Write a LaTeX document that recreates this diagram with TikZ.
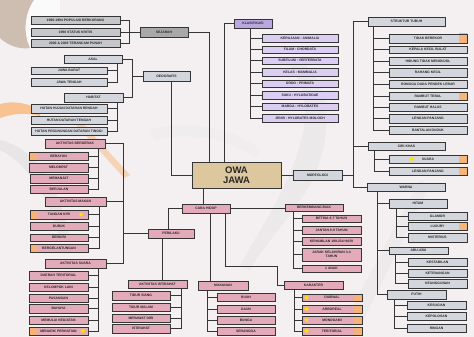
\documentclass[tikz,border=0pt]{standalone}
\usepackage{fontspec}
\setmainfont{Liberation Sans}
\usetikzlibrary{shapes.geometric}
\definecolor{bgc}{HTML}{F4EFF1}
\definecolor{lg}{HTML}{D3D6DC}
\definecolor{dg}{HTML}{A8A8A8}
\definecolor{mg}{HTML}{C6C7CA}
\definecolor{pp}{HTML}{DCCEF2}
\definecolor{ppd}{HTML}{BBA7E0}
\definecolor{pk}{HTML}{E3AABA}
\definecolor{tanc}{HTML}{DCC79F}
\definecolor{acc}{HTML}{F7B376}
\definecolor{ln}{HTML}{353535}
\newcommand\bx[7]{\node[#1, minimum width={(#4)-(#2)}, minimum height={(#5)-(#3)}] (#6) at ({((#2)+(#4))/2},{((#3)+(#5))/2}) {#7};}
\newcommand\tk[2]{\draw[conn] (#1) -- (#1 -| #2);}
\tikzset{
 bx/.style={draw=ln, line width=0.85pt, inner sep=0pt, align=center, font=\fontsize{3.4}{3.9}\selectfont\bfseries, text=black!85},
 gr/.style={bx, fill=lg},
 sg/.style={bx, fill=mg},
 sd/.style={bx, fill=dg},
 pu/.style={bx, fill=pp},
 pud/.style={bx, fill=ppd},
 pi/.style={bx, fill=pk},
 ow/.style={bx, fill=tanc, line width=1pt, font=\fontsize{9.5}{10.5}\selectfont\bfseries},
 conn/.style={draw=ln, line width=0.9pt},
 accR/.style={path picture={\shade[left color=#1, right color=acc] ([xshift=-8pt]path picture bounding box.north east) rectangle (path picture bounding box.south east);}},
 accL/.style={path picture={\shade[left color=acc, right color=#1] (path picture bounding box.north west) rectangle ([xshift=8pt]path picture bounding box.south west);}},
 ystar/.style={star, star points=5, star point ratio=2.3, fill=yellow!85!orange, draw=none, inner sep=0pt, minimum size=5.5pt},
}
\begin{document}
\begin{tikzpicture}[x=1pt,y=-1pt]
\useasboundingbox (0,0) rectangle (474,337);
\fill[bgc] (0,0) rectangle (474,337);
% background decoration
\fill[gray!55!brown!60, opacity=0.8] (0,0) -- (34,0) .. controls (26,12) and (22,30) .. (30,48) .. controls (18,50) and (6,44) .. (0,38) -- cycle;
\fill[white, opacity=0.7] (34,0) .. controls (26,12) and (22,30) .. (30,48) -- (60,48) -- (60,0) -- cycle;
\fill[orange!50!bgc, opacity=0.8] (0,104) .. controls (15,100) and (30,104) .. (40,110) -- (40,116) .. controls (25,112) and (12,114) .. (0,118) -- cycle;
\fill[orange!35!bgc, opacity=0.7] (70,118) -- (78,118) -- (130,175) -- (124,178) -- cycle;
\fill[gray!25, opacity=0.6] (0,140) .. controls (40,150) and (60,190) .. (70,240) -- (60,240) .. controls (50,200) and (30,165) .. (0,150) -- cycle;
\fill[gray!20, opacity=0.6] (300,60) .. controls (340,90) and (330,160) .. (300,200) .. controls (280,230) and (260,250) .. (250,270) -- (240,265) .. controls (260,230) and (300,170) .. (305,120) .. controls (307,90) and (295,70) .. (285,60) -- cycle;
\fill[gray!15, opacity=0.6] (150,130) .. controls (180,120) and (230,125) .. (260,150) -- (255,158) .. controls (225,135) and (185,132) .. (155,140) -- cycle;
\fill[gray!18, opacity=0.6] (340,330) -- (420,180) -- (430,185) -- (355,337) -- cycle;

% ---------- SEJARAH
\bx{sg}{31}{16}{120}{24}{s1}{1990-1994 POPULASI BERKURANG}
\bx{sg}{31}{28}{120}{36}{s2}{1996 STATUS KRITIS}
\bx{sg}{31}{39}{120}{47}{s3}{2000 \& 2008 TERANCAM PUNAH}
\bx{sd}{140}{27}{188}{37}{sej}{SEJARAH}
\coordinate (bS) at (129,0);
\draw[conn] (s1.east) -| (bS |- s3.east) -- (s3.east);
\tk{s2.east}{bS}
\draw[conn] (bS |- sej.west) -- (sej.west);

% ---------- GEOGRAFIS
\bx{gr}{143}{71}{190}{81}{geo}{GEOGRAFIS}
\bx{gr}{64}{55}{122}{63}{asal}{ASAL}
\bx{gr}{31}{67}{107}{74}{jb}{JAWA BARAT}
\bx{gr}{31}{78}{107}{86}{jt}{JAWA TENGAH}
\bx{gr}{64}{93}{123}{102}{hab}{HABITAT}
\bx{gr}{31}{104}{107}{113}{h1}{HUTAN HUJAN DATARAN RENDAH}
\bx{gr}{31}{116}{107}{124}{h2}{HUTAN DATARAN TENGAH}
\bx{gr}{31}{127}{107}{135}{h3}{HUTAN PEGUNUNGAN DATARAN TINGGI}
\coordinate (bA) at (117,0);
\draw[conn] (bA |- asal.south) |- (jt.east);
\tk{jb.east}{bA}
\draw[conn] (bA |- hab.south) |- (h3.east);
\tk{h1.east}{bA}
\tk{h2.east}{bA}
\coordinate (bG) at (132,0);
\draw[conn] (asal.east) -| (bG |- hab.east) -- (hab.east);
\draw[conn] (bG |- geo.west) -- (geo.west);

% ---------- KLASIFIKASI
\bx{pud}{234}{19}{272}{28}{kla}{KLASIFIKASI}
\bx{pu}{262}{34}{338}{42}{k1}{KERAJAAN : ANIMALIA}
\bx{pu}{262}{46}{338}{53}{k2}{FILUM : CHORDATA}
\bx{pu}{262}{57}{338}{64}{k3}{SUBFILUM : VERTEBRATA}
\bx{pu}{262}{68}{338}{76}{k4}{KELAS : MAMMALIA}
\bx{pu}{262}{80}{338}{87}{k5}{ORDO : PRIMATA}
\bx{pu}{262}{91}{338}{99}{k6}{SUKU : HYLOBATIDAE}
\bx{pu}{262}{103}{338}{110}{k7}{MARGA : HYLOBATES}
\bx{pu}{262}{114}{338}{122}{k8}{JENIS : HYLOBATES MOLOCH}
\coordinate (bK) at (250,0);
\draw[conn] (bK |- kla.south) |- (k8.west);
\foreach \k in {k1,k2,k3,k4,k5,k6,k7}{\tk{\k.west}{bK}}

% ---------- OWA JAWA
\bx{ow}{192}{162}{281}{188}{owa}{OWA\\JAWA}
\coordinate (oS) at (209,0);
\coordinate (oK) at (224,0);
\draw[conn] (sej.east) -| (oS |- owa.north);
\draw[conn] (kla.west) -| (oK |- owa.north);
\coordinate (oG) at (171,0);
\draw[conn] (oG |- geo.south) |- (owa.west);

% ---------- MORFOLOGI
\bx{gr}{293}{170}{342}{180}{mor}{MORFOLOGI}
\draw[conn] (owa.east) -- (mor.west);
\bx{gr}{368}{17}{445}{26}{stru}{STRUKTUR TUBUH}
\bx{gr}{368}{142}{445}{150}{ciri}{CIRI KHAS}
\bx{gr}{367}{183}{445}{191}{war}{WARNA}
\coordinate (bM) at (353,0);
\draw[conn] (stru.west) -| (bM |- war.west) -- (war.west);
\tk{mor.east}{bM}
\tk{ciri.west}{bM}

\bx{gr,accR=lg}{389}{34}{467}{43}{t1}{TIDAK BEREKOR}
\bx{gr}{389}{46}{467}{53}{t2}{KEPALA KECIL BULAT}
\bx{gr}{389}{57}{467}{65}{t3}{HIDUNG TIDAK MENONJOL}
\bx{gr}{389}{68}{467}{77}{t4}{RAHANG KECIL}
\bx{gr}{389}{80}{467}{88}{t5}{RONGGA DADA PENDEK LEBAR}
\bx{gr,accR=lg}{389}{92}{467}{100}{t6}{RAMBUT TEBAL}
\bx{gr}{389}{103}{467}{111}{t7}{RAMBUT HALUS}
\bx{gr}{389}{114}{467}{123}{t8}{LENGAN PANJANG}
\bx{gr}{389}{126}{467}{134}{t9}{BANTALAN DUDUK}
\coordinate (bT) at (373,0);
\draw[conn] (bT |- stru.south) |- (t9.west);
\foreach \k in {t1,t2,t3,t4,t5,t6,t7,t8}{\tk{\k.west}{bT}}

\bx{gr,accR=lg}{389}{155}{467}{163}{c1}{SUARA}
\bx{gr,accR=lg}{389}{167}{467}{175}{c2}{LENGAN PANJANG}
\node[ystar] (sc1) at (412,159) {};
\coordinate (bC) at (374,0);
\draw[conn] (bC |- ciri.south) |- (c2.west);
\tk{c1.west}{bC}

\bx{gr}{389}{199}{447}{208}{hit}{HITAM}
\bx{gr}{389}{247}{448}{254}{abu}{ABU-ABU}
\bx{gr}{387}{290}{446}{299}{put}{PUTIH}
\coordinate (bW) at (377,0);
\draw[conn] (bW |- war.south) |- (put.west);
\tk{hit.west}{bW}
\tk{abu.west}{bW}

\bx{gr}{408}{212}{467}{220}{w1}{GLAMOR}
\bx{gr,accR=lg}{408}{222}{467}{230}{w2}{LUXURY}
\bx{gr}{408}{233}{467}{242}{w3}{MISTERIUS}
\coordinate (bH) at (396,0);
\draw[conn] (bH |- hit.south) |- (w3.west);
\tk{w1.west}{bH}
\tk{w2.west}{bH}

\bx{gr}{408}{258}{467}{266}{a1}{KESTABILAN}
\bx{gr}{408}{269}{467}{277}{a2}{KETENANGAN}
\bx{gr}{408}{279}{467}{288}{a3}{KEANGGUNAN}
\coordinate (bAb) at (395,0);
\draw[conn] (bAb |- abu.south) |- (a3.west);
\tk{a1.west}{bAb}
\tk{a2.west}{bAb}

\bx{gr}{407}{301}{466}{309}{p1}{KESUCIAN}
\bx{gr}{407}{312}{466}{320}{p2}{KEPOLOSAN}
\bx{gr}{407}{324}{466}{332}{p3}{RINGAN}
\coordinate (bP) at (394,0);
\draw[conn] (bP |- put.south) |- (p3.west);
\tk{p1.west}{bP}
\tk{p2.west}{bP}

% ---------- CARA HIDUP
\bx{pi}{182}{204}{230}{213}{cara}{CARA HIDUP}
\coordinate (oC) at (203,0);
\draw[conn] (oC |- owa.south) -- (oC |- cara.north);
\bx{pi}{148}{229}{194}{238}{peri}{PERILAKU}
\coordinate (cP) at (168,0);
\draw[conn] (cara.west) -| (cP |- peri.north);
\bx{pi}{285}{204}{343}{211}{bb}{BERKEMBANG BIAK}
\draw[conn] (cara.east) -- (cara.east -| bb.west);
\bx{pi}{302}{215}{361}{222}{b1}{BETINA 6-7 TAHUN}
\bx{pi}{302}{226}{361}{234}{b2}{JANTAN 8-9 TAHUN}
\bx{pi}{302}{237}{361}{245}{b3}{KEHAMILAN 199-234 HARI}
\bx{pi}{302}{248}{361}{261}{b4}{JARAK KELAHIRAN 3-4\\TAHUN}
\bx{pi}{302}{265}{361}{272}{b5}{1 ANAK}
\coordinate (bB) at (293,0);
\draw[conn] (bB |- bb.south) |- (b5.west);
\foreach \k in {b1,b2,b3,b4}{\tk{\k.west}{bB}}

\bx{pi}{198}{281}{248}{290}{mak}{MAKANAN}
\coordinate (cM) at (210,0);
\draw[conn] (cM |- cara.south) -- (cM |- mak.north);
\bx{pi}{217}{293}{275}{301}{m1}{BUAH}
\bx{pi}{217}{305}{275}{313}{m2}{DAUN}
\bx{pi}{217}{316}{275}{324}{m3}{BUNGA}
\bx{pi}{217}{327}{275}{335}{m4}{SERANGGA}
\coordinate (bMk) at (207,0);
\draw[conn] (bMk |- mak.south) |- (m4.west);
\foreach \k in {m1,m2,m3}{\tk{\k.west}{bMk}}

\bx{pi}{284}{281}{343}{289}{kar}{KARAKTER}
\coordinate (cK) at (225,0);
\coordinate (cK2) at (277,266);
\draw[conn] (cK |- cara.south) |- (cK2) |- (kar.west);
\bx{pi,accR=pk}{302}{294}{362}{301}{r1}{DIURNAL}
\bx{pi,accR=pk}{302}{305}{362}{313}{r2}{ARBOREAL}
\bx{pi,accR=pk}{302}{316}{362}{324}{r3}{MONOGAMI}
\bx{pi,accR=pk}{302}{327}{362}{335}{r4}{TERITORIAL}
\foreach \k in {r1,r2,r3,r4}{\node[ystar] at ([xshift=5pt]\k.west) {};}
\coordinate (bR) at (294,0);
\draw[conn] (bR |- kar.south) |- (r4.west);
\foreach \k in {r1,r2,r3}{\tk{\k.west}{bR}}

% ---------- PERILAKU
\bx{pi}{45}{139}{105}{148}{ag}{AKTIVITAS BERGERAK}
\bx{pi}{45}{197}{106}{206}{am}{AKTIVITAS MAKAN}
\bx{pi}{45}{259}{106}{268}{as}{AKTIVITAS SUARA}
\coordinate (bPe) at (123,0);
\draw[conn] (ag.east) -| (bPe |- as.east) -- (as.east);
\tk{am.east}{bPe}
\draw[conn] (peri.west) -- (peri.west -| bPe);

\bx{pi,accL=pk}{29}{152}{88}{160}{g1}{BERAYUN}
\bx{pi}{29}{163}{88}{172}{g2}{MELOMPAT}
\bx{pi}{30}{174}{88}{183}{g3}{MEMANJAT}
\bx{pi}{30}{185}{88}{193}{g4}{BERJALAN}
\coordinate (bGr) at (98,0);
\draw[conn] (bGr |- ag.south) |- (g4.east);
\foreach \k in {g1,g2,g3}{\tk{\k.east}{bGr}}

\bx{pi,accL=pk}{30}{210}{88}{219}{e1}{TANGAN KIRI}
\bx{pi}{30}{222}{88}{230}{e2}{DUDUK}
\bx{pi}{30}{234}{88}{241}{e3}{BERDIRI}
\bx{pi,accL=pk}{30}{244}{88}{252}{e4}{BERGELANTUNGAN}
\node[ystar] at (81,214.5) {};
\coordinate (bE) at (99,0);
\draw[conn] (bE |- am.south) |- (e4.east);
\foreach \k in {e1,e2,e3}{\tk{\k.east}{bE}}

\bx{pi}{29}{271}{88}{280}{u1}{DAERAH TERITORIAL}
\bx{pi}{29}{283}{88}{291}{u2}{KELOMPOK LAIN}
\bx{pi}{29}{294}{88}{302}{u3}{PASANGAN}
\bx{pi}{29}{304}{88}{313}{u4}{BAHAYA}
\bx{pi}{29}{316}{88}{324}{u5}{MEMULAI KEGIATAN}
\bx{pi,accL=pk}{29}{327}{88}{335}{u6}{MENARIK PERHATIAN}
\node[ystar] at (83,331) {};
\coordinate (bU) at (98,0);
\draw[conn] (bU |- as.south) |- (u6.east);
\foreach \k in {u1,u2,u3,u4,u5}{\tk{\k.east}{bU}}

\bx{pi}{128}{280}{187}{288}{ai}{AKTIVITAS ISTIRAHAT}
\coordinate (pI) at (162,0);
\draw[conn] (pI |- peri.south) -- (pI |- ai.north);
\bx{pi}{112}{291}{170}{300}{i1}{TIDUR SIANG}
\bx{pi}{112}{303}{170}{311}{i2}{TIDUR MALAM}
\bx{pi}{112}{314}{170}{322}{i3}{MERAWAT DIRI}
\bx{pi}{112}{324}{170}{333}{i4}{ISTIRAHAT}
\coordinate (bI) at (181,0);
\draw[conn] (bI |- ai.south) |- (i4.east);
\foreach \k in {i1,i2,i3}{\tk{\k.east}{bI}}
\end{tikzpicture}
\end{document}
